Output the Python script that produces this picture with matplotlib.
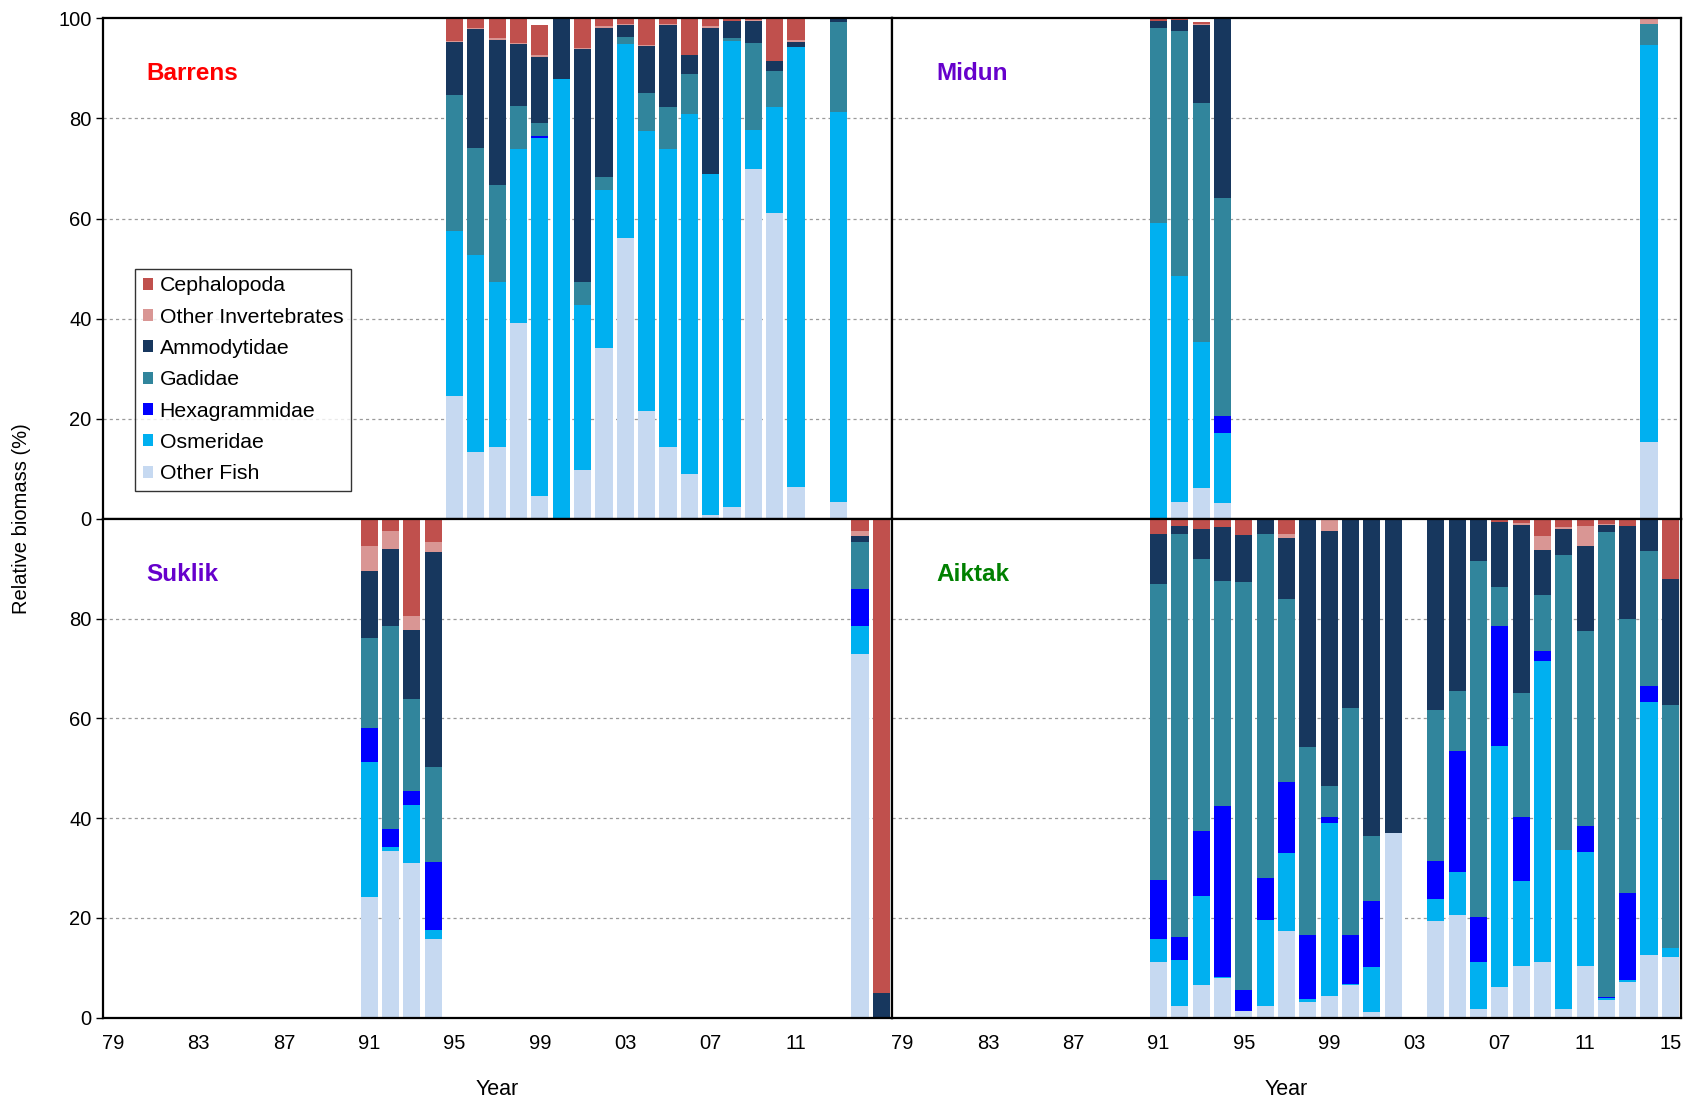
import matplotlib
matplotlib.use("Agg")
import matplotlib.pyplot as plt
from matplotlib.patches import Patch

plt.rcParams['font.family'] = ['Liberation Sans', 'DejaVu Sans']

CATEGORIES = ["Other Fish", "Osmeridae", "Hexagrammidae", "Gadidae",
              "Ammodytidae", "Other Invertebrates", "Cephalopoda"]
COLORS = ["#C6D9F1", "#00B0F0", "#0000FF", "#31859C",
          "#17375E", "#D99694", "#C0504D"]

# ---- Barrens ----
barrens_years = [1995, 1996, 1997, 1998, 1999, 2000, 2001, 2002, 2003,
                 2004, 2005, 2006, 2007, 2008, 2009, 2010, 2011, 2013]
barrens_other_fish = [24.6, 13.4, 14.4, 39.1, 4.5, 0, 9.8, 34.2, 56.2,
                      21.6, 14.3, 9.0, 0.7, 2.4, 69.9, 61.1, 6.3, 3.4]
barrens_osmeridae = [32.9, 39.3, 32.9, 34.7, 71.5, 87.8, 32.9, 31.6, 38.6,
                     55.8, 59.5, 71.8, 68.2, 93.1, 7.7, 21.1, 88.0, 77.9]
barrens_hexagrammidae = [0, 0, 0, 0, 0.4, 0, 0, 0, 0,
                         0, 0, 0, 0, 0, 0, 0, 0, 0]
barrens_gadidae = [27.2, 21.4, 19.4, 8.7, 2.6, 0, 4.6, 2.5, 1.5,
                   7.7, 8.5, 8.1, 0, 0.6, 17.5, 7.3, 0, 18.0]
barrens_ammodytidae = [10.5, 23.8, 29.0, 12.4, 13.3, 12.2, 46.5, 29.8, 2.4,
                       9.3, 16.4, 3.7, 29.2, 3.4, 4.4, 2.0, 0.9, 0.7]
barrens_other_invert = [0.3, 0.2, 0.3, 0.2, 0.4, 0, 0.3, 0.4, 0.1,
                        0.2, 0.2, 0, 0.3, 0, 0.1, 0, 0.4, 0]
barrens_cephalopoda = [4.5, 1.9, 4.0, 4.9, 6.0, 0, 5.9, 1.5, 1.2,
                       5.4, 1.1, 7.4, 1.6, 0.5, 0.4, 8.5, 4.4, 0]

# ---- Midun ----
midun_years = [1991, 1992, 1993, 1994, 2014]
midun_other_fish = [0, 3.4, 6.1, 3.1, 15.4]
midun_osmeridae = [59.1, 45.1, 29.2, 14.1, 79.3]
midun_hexagrammidae = [0, 0, 0, 3.4, 0]
midun_gadidae = [39.0, 49.0, 47.8, 43.6, 4.2]
midun_ammodytidae = [1.4, 2.2, 15.5, 35.8, 0]
midun_other_invert = [0, 0, 0.2, 0, 1.1]
midun_cephalopoda = [0.5, 0.3, 0.5, 0, 0]

# ---- Suklik ----
suklik_years = [1991, 1992, 1993, 1994, 2014, 2015]
suklik_other_fish = [24.2, 33.3, 31.0, 15.8, 72.9, 0]
suklik_osmeridae = [27.1, 1.0, 11.6, 1.8, 5.6, 0]
suklik_hexagrammidae = [6.8, 3.6, 2.8, 13.5, 7.5, 0]
suklik_gadidae = [18.0, 40.6, 18.5, 19.2, 9.4, 0]
suklik_ammodytidae = [13.4, 15.4, 13.8, 43.1, 1.1, 5.0]
suklik_other_invert = [5.1, 3.6, 2.8, 1.9, 1.1, 0]
suklik_cephalopoda = [5.4, 2.5, 19.5, 4.7, 2.4, 95.0]

# ---- Aiktak ----
aiktak_years = [1991, 1992, 1993, 1994, 1995, 1996, 1997, 1998, 1999, 2000,
                2001, 2002, 2004, 2005, 2006, 2007, 2008, 2009, 2010, 2011,
                2012, 2013, 2014, 2015]
aiktak_other_fish = [11.1, 2.3, 6.5, 8.0, 1.3, 2.3, 17.4, 3.1, 4.3, 6.6,
                     1.2, 37.1, 19.3, 20.5, 1.8, 6.2, 10.4, 11.1, 1.7, 10.4,
                     3.6, 7.1, 12.5, 12.1]
aiktak_osmeridae = [4.6, 9.2, 17.9, 0.1, 0.1, 17.3, 15.6, 0.6, 34.8, 0.1,
                    8.9, 0, 4.5, 8.7, 9.3, 48.3, 17.0, 60.4, 31.9, 22.7,
                    0.3, 0.4, 50.8, 1.9]
aiktak_hexagrammidae = [11.9, 4.7, 13.1, 34.3, 4.2, 8.3, 14.3, 12.8, 1.2, 9.9,
                        13.3, 0, 7.5, 24.3, 9.1, 24.1, 12.9, 2.1, 0, 5.4,
                        0.2, 17.5, 3.1, 0]
aiktak_gadidae = [59.3, 80.8, 54.4, 45.2, 81.8, 69.1, 36.7, 37.8, 6.1, 45.4,
                  13.0, 0, 30.4, 11.9, 71.4, 7.7, 24.7, 11.2, 59.2, 39.0,
                  93.2, 54.9, 27.2, 48.7]
aiktak_ammodytidae = [10.0, 1.5, 6.0, 10.7, 9.3, 3.0, 12.2, 45.4, 51.2, 38.1,
                      63.6, 62.9, 38.3, 34.6, 8.2, 13.0, 33.8, 8.9, 5.2, 17.1,
                      1.4, 18.6, 6.4, 25.3]
aiktak_other_invert = [0.1, 0, 0.1, 0.1, 0.1, 0, 0.7, 0.1, 2.4, 0,
                       0, 0, 0, 0, 0, 0.1, 0.3, 2.9, 0.4, 4.0,
                       0.3, 0, 0, 0]
aiktak_cephalopoda = [3.0, 1.5, 2.0, 1.6, 3.2, 0, 3.1, 0.2, 0, 0,
                      0, 0, 0, 0, 0.2, 0.6, 0.9, 3.4, 1.6, 1.4,
                      1.0, 1.5, 0, 12.0]

tick_years = [1979, 1983, 1987, 1991, 1995, 1999, 2003, 2007, 2011, 2015]
tick_labels = ["79", "83", "87", "91", "95", "99", "03", "07", "11", "15"]

sites = [
    ("Barrens", "#FF0000", barrens_years,
     [barrens_other_fish, barrens_osmeridae, barrens_hexagrammidae,
      barrens_gadidae, barrens_ammodytidae, barrens_other_invert,
      barrens_cephalopoda]),
    ("Midun", "#6600CC", midun_years,
     [midun_other_fish, midun_osmeridae, midun_hexagrammidae,
      midun_gadidae, midun_ammodytidae, midun_other_invert,
      midun_cephalopoda]),
    ("Suklik", "#6600CC", suklik_years,
     [suklik_other_fish, suklik_osmeridae, suklik_hexagrammidae,
      suklik_gadidae, suklik_ammodytidae, suklik_other_invert,
      suklik_cephalopoda]),
    ("Aiktak", "#008000", aiktak_years,
     [aiktak_other_fish, aiktak_osmeridae, aiktak_hexagrammidae,
      aiktak_gadidae, aiktak_ammodytidae, aiktak_other_invert,
      aiktak_cephalopoda]),
]

fig = plt.figure(figsize=(16.92, 11.03), dpi=100)
x0, xm, x1 = 0.0606, 0.5272, 0.9935
y0, ym, y1 = 0.0775, 0.5295, 0.9834
positions = [
    [x0, ym, xm - x0, y1 - ym],
    [xm, ym, x1 - xm, y1 - ym],
    [x0, y0, xm - x0, ym - y0],
    [xm, y0, x1 - xm, ym - y0],
]

axes = []
for i, ((name, ncolor, years, series), pos) in enumerate(zip(sites, positions)):
    ax = fig.add_axes(pos)
    axes.append(ax)
    bottom = [0.0] * len(years)
    for vals, col, cat in zip(series, COLORS, CATEGORIES):
        ax.bar(years, vals, width=0.8, bottom=bottom, color=col,
               linewidth=0, label=cat, zorder=2)
        bottom = [b + v for b, v in zip(bottom, vals)]

    ax.set_xlim(1978.5, 2015.5)
    ax.set_ylim(0, 100)
    for g in (20, 40, 60, 80):
        ax.axhline(g, color="#9a9a9a", linewidth=0.9,
                   linestyle=(0, (2.5, 2.5)), zorder=1)
    for sp in ax.spines.values():
        sp.set_color("black")
        sp.set_linewidth(1.6)
        sp.set_zorder(5)

    col = i % 2
    row = i // 2
    if col == 0:
        ax.set_yticks([0, 20, 40, 60, 80, 100] if row == 0 else [0, 20, 40, 60, 80])
        ax.tick_params(axis="y", direction="out", length=5, width=1,
                       pad=3, labelsize=14.5)
    else:
        ax.set_yticks([])
    if row == 1:
        if col == 0:
            ax.set_xticks(tick_years[:-1])
            ax.set_xticklabels(tick_labels[:-1])
        else:
            ax.set_xticks(tick_years)
            ax.set_xticklabels(tick_labels)
        ax.tick_params(axis="x", length=0, pad=12, labelsize=14.5)
    else:
        ax.set_xticks([])

    ax.text(0.056, 0.889, name, transform=ax.transAxes, fontsize=17.5,
            fontweight="bold", color=ncolor, ha="left", va="center")

# Legend in the Barrens panel, top entry Cephalopoda
handles = [Patch(facecolor=c, edgecolor="none") for c in COLORS[::-1]]
leg = axes[0].legend(handles, CATEGORIES[::-1], loc="upper left",
                     bbox_to_anchor=(0.041, 0.5), borderaxespad=0,
                     fontsize=15.3, frameon=True, fancybox=False,
                     edgecolor="black", handlelength=0.5, handleheight=0.5,
                     handletextpad=0.3, labelspacing=0.58,
                     borderpad=0.36)
leg.get_frame().set_linewidth(1.0)
leg.set_zorder(10)

fig.text(0.0128, 0.53, "Relative biomass (%)", rotation=90,
         ha="center", va="center", fontsize=14.5,
         family=["Liberation Sans Narrow", "Liberation Sans", "DejaVu Sans"])
fig.text((x0 + xm) / 2, 0.012, "Year", ha="center", va="center", fontsize=15.5)
fig.text((xm + x1) / 2, 0.012, "Year", ha="center", va="center", fontsize=15.5)

fig.savefig("out.png", dpi=100, facecolor="white")
